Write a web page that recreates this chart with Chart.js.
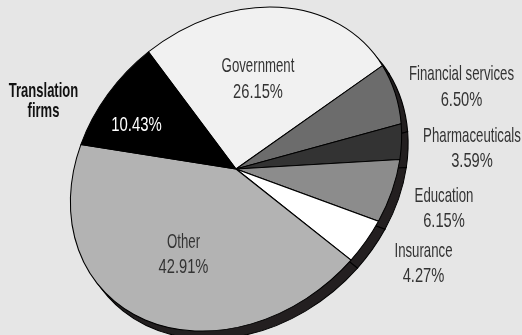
<!DOCTYPE html>
<html>
<head>
<meta charset="utf-8">
<script src="https://cdn.jsdelivr.net/npm/chart.js@4.4.1/dist/chart.umd.min.js"></script>
<style>
  html, body { margin: 0; padding: 0; background: #e6e6e6; }
  canvas { display: block; }
</style>
</head>
<body>
<canvas id="pie" width="522" height="335"></canvas>
<script>
// Market segments and their shares (percent)
const categories = ['Government', 'Financial services', 'Pharmaceuticals', 'Education', 'Insurance', 'Other', 'Translation firms'];
const shares = [26.15, 6.50, 3.59, 6.15, 4.27, 42.91, 10.43];
const sliceColors = ['#f1f1f1', '#6c6c6c', '#333333', '#8c8c8c', '#ffffff', '#b3b3b3', '#000000'];

// Tilted-disc look: the flat pie is squeezed into a rotated ellipse and
// given a dark side wall shifted down and to the right.
const TILT = { angle: -42 * Math.PI / 180, major: 180, minor: 146, depthX: 6.5, depthY: 8, side: '#231f20' };

function applyTilt(ctx, cx, cy, r) {
  ctx.translate(cx, cy);
  ctx.rotate(TILT.angle);
  ctx.scale(TILT.major / r, TILT.minor / r);
  ctx.rotate(-TILT.angle);
  ctx.translate(-cx, -cy);
}

const tiltPlugin = {
  id: 'tilt',
  beforeDatasetsDraw(chart) {
    const ctx = chart.ctx;
    const arcs = chart.getDatasetMeta(0).data;
    const { x, y, outerRadius } = arcs[0];
    // side wall
    ctx.save();
    ctx.translate(TILT.depthX, TILT.depthY);
    applyTilt(ctx, x, y, outerRadius);
    arcs.forEach(a => {
      ctx.beginPath();
      ctx.moveTo(x, y);
      ctx.arc(x, y, outerRadius, a.startAngle, a.endAngle);
      ctx.closePath();
      ctx.fillStyle = TILT.side;
      ctx.fill();
      ctx.lineWidth = 1;
      ctx.strokeStyle = '#000000';
      ctx.stroke();
    });
    ctx.restore();
    // top face
    ctx.save();
    applyTilt(ctx, x, y, outerRadius);
  },
  afterDatasetsDraw(chart) {
    chart.ctx.restore();
  }
};

// Label placement: anchor (centre x, first baseline) and line gap per slice
const labelLayout = [
  { x: 258,   y: 71.5, gap: 26.5 },
  { x: 461.5, y: 80,   gap: 26 },
  { x: 472,   y: 142,  gap: 25 },
  { x: 444,   y: 202,  gap: 25 },
  { x: 423.5, y: 257,  gap: 25 },
  { x: 183.5, y: 248,  gap: 25 },
  { x: 43.5,  y: 97,   gap: 20, bold: true, split: true, valueAt: { x: 136.5, y: 131 } }
];

function condensedText(ctx, text, x, y, sx) {
  ctx.save();
  ctx.translate(x, y);
  ctx.scale(sx, 1);
  ctx.textAlign = 'center';
  ctx.textBaseline = 'alphabetic';
  ctx.fillText(text, 0, 0);
  ctx.restore();
}

const labelPlugin = {
  id: 'sliceLabels',
  afterDraw(chart) {
    const ctx = chart.ctx;
    ctx.save();
    categories.forEach((name, i) => {
      const L = labelLayout[i];
      const value = shares[i].toFixed(2) + '%';
      if (L.split) {
        ctx.font = 'bold 21px "Liberation Sans", Arial, sans-serif';
        ctx.fillStyle = '#111111';
        name.split(' ').forEach((part, k) => condensedText(ctx, part, L.x, L.y + k * L.gap, 0.62));
        ctx.font = '21px "Liberation Sans", Arial, sans-serif';
        ctx.fillStyle = '#ffffff';
        condensedText(ctx, value, L.valueAt.x, L.valueAt.y, 0.71);
      } else {
        ctx.font = '21px "Liberation Sans", Arial, sans-serif';
        ctx.fillStyle = '#333333';
        condensedText(ctx, name, L.x, L.y, 0.63);
        condensedText(ctx, value, L.x, L.y + L.gap, 0.70);
      }
    });
    ctx.restore();
  }
};

new Chart(document.getElementById('pie'), {
  type: 'pie',
  data: {
    labels: categories,
    datasets: [{
      data: shares,
      backgroundColor: sliceColors,
      borderColor: '#000000',
      borderWidth: 1,
      clip: false
    }]
  },
  options: {
    responsive: false,
    animation: false,
    events: [],
    rotation: -37.8,
    layout: { padding: { left: 76, right: 126, top: 9, bottom: 6 } },
    plugins: {
      legend: { display: false },
      tooltip: { enabled: false }
    }
  },
  plugins: [tiltPlugin, labelPlugin]
});
</script>
</body>
</html>
